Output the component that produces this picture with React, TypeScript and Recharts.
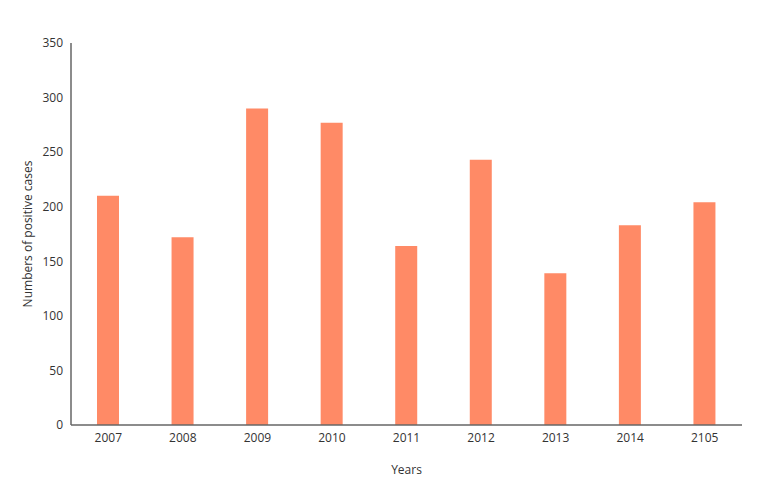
import React from 'react';
import { BarChart, Bar, XAxis, YAxis, Label } from 'recharts';

const years = ['2007', '2008', '2009', '2010', '2011', '2012', '2013', '2014', '2105'];
const positiveCases = [210, 172, 290, 277, 164, 243, 139, 183, 204];
const yTicks = [0, 50, 100, 150, 200, 250, 300, 350];

const data = years.map((year, i) => ({ year, cases: positiveCases[i] }));

const tickStyle = { fontSize: 12, fill: '#333', fontFamily: 'Open Sans' };

const App = () => {
  return (
    <div style={{ position: 'absolute', left: 0, top: 0, width: 757, height: 486, background: '#fff' }}>
      <BarChart
        width={757}
        height={486}
        data={data}
        margin={{ top: 43, right: 15, left: 28, bottom: 8 }}
      >
        <XAxis
          dataKey="year"
          tickLine={false}
          axisLine={{ stroke: '#666', strokeWidth: 1.5 }}
          tick={tickStyle}
          height={53}
        >
          <Label
            value="Years"
            position="insideBottom"
            offset={4}
            style={{ fontSize: 12, fill: '#333', fontFamily: 'Open Sans' }}
          />
        </XAxis>
        <YAxis
          width={43}
          domain={[0, 350]}
          ticks={yTicks}
          tickLine={false}
          axisLine={{ stroke: '#666', strokeWidth: 1.5 }}
          tick={tickStyle}
        >
          <Label
            value="Numbers of positive cases"
            angle={-90}
            position="insideLeft"
            offset={0}
            style={{ fontSize: 12, fill: '#333', fontFamily: 'Open Sans', textAnchor: 'middle' }}
          />
        </YAxis>
        <Bar dataKey="cases" fill="#FF8A66" barSize={22} isAnimationActive={false} />
      </BarChart>
    </div>
  );
};

export default App;
